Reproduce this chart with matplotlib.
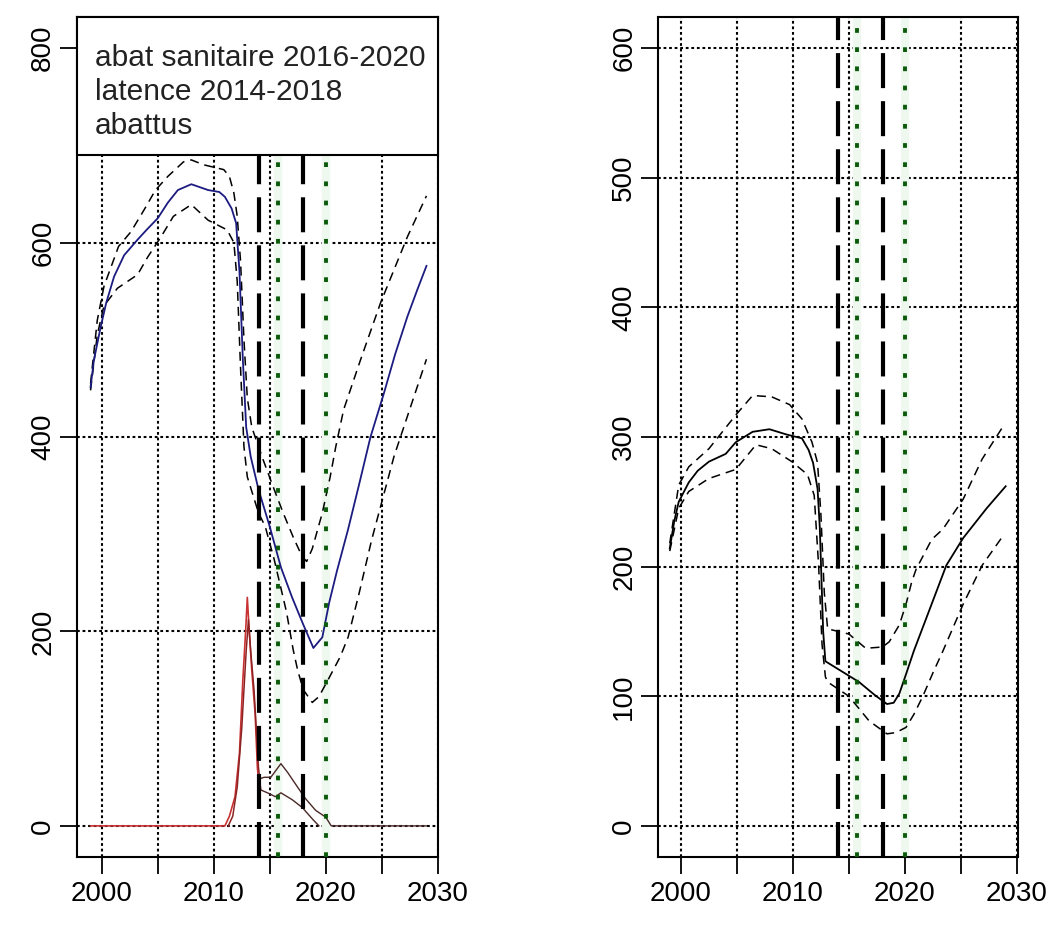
import matplotlib
matplotlib.use("Agg")
import matplotlib.pyplot as plt
from matplotlib import font_manager
from matplotlib.patches import Rectangle

# ---------------------------------------------------------------- data
# left panel: population estimate (mean + interval)
years_mean_L = [1999.0, 1999.3, 1999.9, 2000.4, 2001.1, 2002.0, 2003.2, 2004.0, 2005.0, 2005.9,
                2006.8, 2008.0, 2009.5, 2010.5, 2011.0, 2011.6, 2012.0, 2012.3, 2012.6, 2012.9,
                2013.3, 2014.0, 2015.0, 2016.0, 2017.0, 2018.0, 2018.9, 2019.7, 2020.3, 2021.0,
                2022.0, 2023.0, 2024.0, 2025.2, 2026.2, 2027.3, 2028.2, 2029.0]
mean_L = [451, 479, 513, 538, 565, 587, 603, 613, 625, 641,
          654, 660, 654, 652, 647, 635, 620, 570, 480, 410,
          380, 346, 308, 266, 235, 207, 183, 194, 229, 262,
          305, 352, 400, 445, 485, 524, 552, 576]

years_hi_L = [1999.0, 1999.6, 2000.2, 2001.5, 2002.6, 2003.8, 2004.8, 2005.9, 2007.3, 2008.0,
              2009.1, 2010.9, 2011.4, 2011.8, 2012.1, 2012.4, 2012.7, 2013.0, 2013.4, 2014.4,
              2015.3, 2016.2, 2017.1, 2017.9, 2018.3, 2018.8, 2019.7, 2020.4, 2020.9, 2021.6,
              2023.1, 2024.9, 2027.3, 2029.0]
hi_L = [455, 520, 555, 596, 611, 634, 654, 668, 683, 685,
        680, 675, 668, 651, 627, 580, 500, 440, 410, 377,
        349, 322, 297, 277, 272, 285, 322, 359, 390, 428,
        479, 538, 606, 648]

years_lo_L = [1999.0, 1999.6, 2000.2, 2001.4, 2003.2, 2004.1, 2005.3, 2006.4, 2008.0, 2009.5,
              2011.2, 2011.8, 2012.1, 2012.4, 2012.7, 2013.0, 2014.0, 2014.6, 2015.4, 2016.5,
              2017.1, 2017.5, 2018.0, 2018.8, 2019.4, 2020.2, 2021.3, 2022.0, 2023.0, 2024.1,
              2026.1, 2029.0]
lo_L = [448, 505, 535, 553, 567, 585, 606, 627, 639, 623,
        613, 600, 560, 470, 390, 359, 322, 308, 274, 220,
        181, 160, 140, 127, 133, 150, 174, 194, 240, 294,
        380, 480]

# culled animals (observed)
years_abattus = [1999.0, 2011.0, 2011.4, 2011.9, 2012.3, 2012.6, 2012.85, 2013.0, 2013.15,
                 2013.4, 2013.7, 2013.9, 2014.0]
abattus = [0, 0, 10, 30, 75, 150, 200, 235, 205, 160, 115, 60, 48]
years_abattus_b = [2011.3, 2011.7, 2012.1, 2012.5, 2012.9, 2013.1, 2013.3, 2013.6, 2013.8,
                   2014.0, 2014.2]
abattus_b = [0, 10, 40, 100, 180, 212, 180, 140, 100, 60, 37]

# culled animals (projected)
years_proj_hi = [2014.0, 2014.5, 2015.1, 2016.0, 2016.6, 2017.6, 2018.2, 2019.1, 2020.0,
                 2020.5, 2029.0]
proj_hi = [48, 50, 50, 64, 55, 38, 28, 16, 9, 0, 0]
years_proj_lo = [2014.2, 2015.0, 2015.5, 2016.0, 2017.0, 2017.9, 2018.9, 2019.4]
proj_lo = [37, 33, 30, 34, 27, 19, 6, 0]

# right panel
years_mean_R = [1999.0, 1999.4, 1999.8, 2000.7, 2001.5, 2002.5, 2004.0, 2004.9, 2006.4, 2007.9,
                2009.4, 2010.8, 2011.4, 2011.8, 2012.2, 2012.4, 2012.55, 2012.7, 2012.9, 2014.4,
                2015.9, 2017.3, 2018.4, 2019.0, 2019.5, 2020.1, 2020.8, 2021.9, 2023.7, 2025.2,
                2027.3, 2029.0]
mean_R = [214, 235, 250, 265, 274, 281, 287, 296, 304, 306,
          302, 299, 290, 280, 260, 230, 190, 150, 127, 119,
          111, 101, 94, 95, 102, 117, 135, 160, 201, 222,
          245, 262]

years_hi_R = [1999.0, 1999.8, 2000.7, 2002.5, 2004.9, 2006.4, 2008.1, 2009.7, 2010.8, 2011.7,
              2012.2, 2012.5, 2012.8, 2013.1, 2015.0, 2016.5, 2018.0, 2018.6, 2019.5, 2020.1,
              2020.6, 2021.0, 2022.4, 2023.4, 2025.2, 2026.9, 2028.9]
hi_R = [218, 263, 277, 291, 317, 332, 331, 325, 314, 296,
        280, 240, 180, 152, 148, 137, 138, 142, 155, 171,
        188, 198, 221, 229, 252, 283, 310]

years_lo_R = [1999.0, 1999.8, 2000.7, 2002.5, 2004.9, 2006.7, 2008.1, 2009.9, 2011.3, 2011.9,
              2012.3, 2012.6, 2012.9, 2013.1, 2015.0, 2016.8, 2018.4, 2019.2, 2020.1, 2020.8,
              2021.6, 2022.5, 2023.4, 2025.2, 2026.9, 2028.7]
lo_R = [212, 245, 258, 268, 275, 294, 291, 281, 271, 255,
        200, 140, 115, 111, 100, 81, 71, 72, 76, 86,
        100, 118, 135, 171, 201, 223]

# reference periods
latence = [2014, 2018]
abat_sanitaire = [2015.7, 2020]

legend_lines = ["abat sanitaire 2016-2020", "latence 2014-2018", "abattus"]

x_ticks = [2000, 2005, 2010, 2015, 2020, 2025, 2030]
x_labels = ["2000", "", "2010", "", "2020", "", "2030"]
y_ticks_L = [0, 200, 400, 600, 800]
y_ticks_R = [0, 100, 200, 300, 400, 500, 600]

# ---------------------------------------------------------------- style
plt.rcParams['lines.scale_dashes'] = False
_names = {f.name for f in font_manager.fontManager.ttflist}
_family = 'Liberation Sans' if 'Liberation Sans' in _names else 'DejaVu Sans'
plt.rcParams['font.family'] = [_family, 'DejaVu Sans']

FS_TICK = 20
FS_LEG = 21.5
W, H = 1051, 925
fig = plt.figure(figsize=(W / 100, H / 100), dpi=100)


def axes_px(left, right, top, bottom):
    return fig.add_axes([left / W, 1 - bottom / H, (right - left) / W, (bottom - top) / H])


DOT = (0, (2.0, 2.0))
CI_DASH = (0, (6.5, 4.3))
LONG_DASH = (0, (25.2, 9.4))
GREEN_DOT = (0, (3.4, 10.4))


def setup(ax, xlim, ylim, yticks):
    ax.set_xlim(*xlim)
    ax.set_ylim(*ylim)
    ax.set_xticks(x_ticks)
    ax.set_xticklabels(x_labels)
    ax.set_yticks(yticks)
    ax.set_yticklabels([str(v) for v in yticks], rotation=90, va='center')
    ax.tick_params(axis='both', direction='out', length=12, width=1.3,
                   labelsize=FS_TICK, colors='black')
    ax.tick_params(axis='x', pad=5)
    ax.tick_params(axis='y', pad=3)
    for s in ax.spines.values():
        s.set_linewidth(1.5)
        s.set_color('black')
    # dotted grid
    for x in x_ticks:
        ax.plot([x, x], list(ylim), color='black', lw=1.5, linestyle=DOT, zorder=1)
    for y in yticks:
        ax.plot(list(xlim), [y, y], color='black', lw=1.5, linestyle=DOT, zorder=1)


def period_lines(ax, ylim):
    for x in abat_sanitaire:
        ax.plot([x, x], list(ylim), color='#eef8ee', lw=6, solid_capstyle='butt', zorder=2)
    for x in latence:
        ax.plot([x, x], list(ylim), color='black', lw=3.0, linestyle=LONG_DASH,
                dash_capstyle='butt', zorder=6)
    for x in abat_sanitaire:
        ax.plot([x, x], list(ylim), color='#0b5a0b', lw=2.8, linestyle=GREEN_DOT,
                dash_capstyle='butt', zorder=6)


# ---------------------------------------------------------------- left panel
axL = axes_px(77, 438, 17, 857)
ylimL = (-32, 832)
setup(axL, (1997.79, 2030.03), ylimL, y_ticks_L)

axL.plot(years_hi_L, hi_L, color='black', lw=1.1, linestyle=CI_DASH, zorder=4)
axL.plot(years_lo_L, lo_L, color='black', lw=1.1, linestyle=CI_DASH, zorder=4)
axL.plot(years_mean_L, mean_L, color='#1c1c80', lw=1.3, zorder=5)

axL.plot(years_abattus, abattus, color='#c83232', lw=1.2, zorder=5)
axL.plot(years_abattus_b, abattus_b, color='#8c2424', lw=1.1, zorder=5)
axL.plot(years_proj_hi, proj_hi, color='#4a2828', lw=1.0, zorder=5)
axL.plot(years_proj_lo, proj_lo, color='#4a2828', lw=1.0, zorder=5)

period_lines(axL, ylimL)

# legend box across the top of the panel
box_bottom = (857 - 155) / 840
axL.add_patch(Rectangle((0, box_bottom), 1, 1 - box_bottom, transform=axL.transAxes,
                        facecolor='white', edgecolor='black', lw=1.5, zorder=20,
                        clip_on=False))
for i, txt in enumerate(legend_lines):
    yb = 1 - (66 - 17 + 34 * i) / 840
    axL.text((95 - 77) / 361, yb, txt, transform=axL.transAxes, fontsize=FS_LEG,
             va='baseline', ha='left', color='#222222', zorder=21)

# ---------------------------------------------------------------- right panel
axR = axes_px(658, 1018, 17, 857)
ylimR = (-24, 624)
setup(axR, (1997.95, 2030.1), ylimR, y_ticks_R)

axR.plot(years_hi_R, hi_R, color='black', lw=1.1, linestyle=CI_DASH, zorder=4)
axR.plot(years_lo_R, lo_R, color='black', lw=1.1, linestyle=CI_DASH, zorder=4)
axR.plot(years_mean_R, mean_R, color='black', lw=1.3, zorder=5)

period_lines(axR, ylimR)

fig.savefig("out.png", dpi=100, facecolor='white')
